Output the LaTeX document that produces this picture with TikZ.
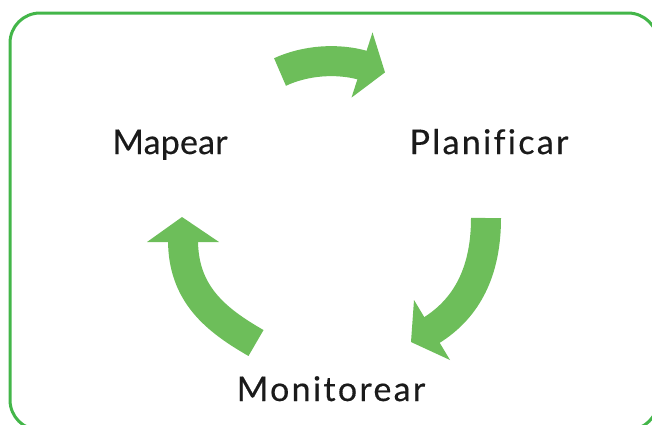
\documentclass[tikz,border=0pt]{standalone}
\usepackage{fontspec}
\setmainfont[Ligatures=NoCommon]{Lato}
\newfontfamily\lblwide[Ligatures=NoCommon,LetterSpace=6.8,FakeBold=0.4]{Lato}
\newfontfamily\lblnarrow[Ligatures=NoCommon,LetterSpace=0.5,FakeBold=0.4]{Lato}
\definecolor{framegreen}{RGB}{67,182,73}
\definecolor{arrowgreen}{RGB}{109,190,90}
\definecolor{txt}{RGB}{26,26,26}
\tikzset{
  lbl/.style={anchor=base, text=txt, inner sep=0pt},
  shaft/.style={draw=arrowgreen, line width=30pt, line cap=butt},
  head/.style={fill=arrowgreen, draw=none},
}
\begin{document}
\begin{tikzpicture}[x=1pt,y=-1pt]
\useasboundingbox (0,0) rectangle (652,424);
\clip (0,0) rectangle (652,424);
% frame
\draw[framegreen, line width=3pt, rounded corners=30pt] (10,13) rectangle (658,430);
% labels
\node[lbl, font=\lblnarrow\fontsize{34}{36}\selectfont] (mapear) at (170,154) {Mapear};
\node[lbl, font=\lblwide\fontsize{34}{36}\selectfont] (planificar) at (489,154) {Planificar};
\node[lbl, font=\lblwide\fontsize{34}{36}\selectfont] (monitorear) at (331,401) {Monitorear};
% top arrow (Mapear -> Planificar)
\draw[shaft] (280,72) .. controls (306,60) and (338,58) .. (364,65.6);
\fill[head] (351.5,97.6) -- (372.5,32.4) -- (385,72.4) -- cycle;
% right arrow (Planificar -> Monitorear)
\draw[shaft] (486,218) .. controls (486,270) and (468,308) .. (430.3,331);
\fill[head] (414,300) -- (450,360) -- (411,342) -- cycle;
% left arrow (Monitorear -> Mapear)
\draw[shaft] (256,343) .. controls (216,320) and (183,294) .. (183,240);
\fill[head] (147,242) -- (219,242) -- (182,217) -- cycle;
\end{tikzpicture}
\end{document}
